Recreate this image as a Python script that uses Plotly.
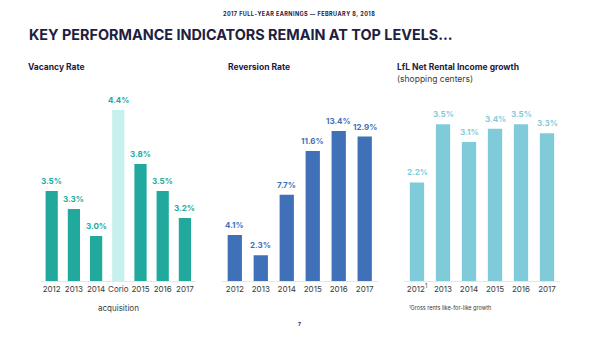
import plotly.graph_objects as go

W, H = 600, 337

# ---- data ----
vac_cats = ["2012", "2013", "2014", "Corio", "2015", "2016", "2017"]
vac_vals = [3.5, 3.3, 3.0, 4.4, 3.8, 3.5, 3.2]
vac_labels = ["3.5%", "3.3%", "3.0%", "4.4%", "3.8%", "3.5%", "3.2%"]

rev_cats = ["2012", "2013", "2014", "2015", "2016", "2017"]
rev_vals = [4.1, 2.3, 7.7, 11.6, 13.4, 12.9]
rev_labels = ["4.1%", "2.3%", "7.7%", "11.6%", "13.4%", "12.9%"]

lfl_cats = ["2012", "2013", "2014", "2015", "2016", "2017"]
lfl_ticktext = ["2012<sup>1</sup>", "2013", "2014", "2015", "2016", "2017"]
lfl_vals = [2.2, 3.5, 3.1, 3.4, 3.5, 3.3]
lfl_labels = ["2.2%", "3.5%", "3.1%", "3.4%", "3.5%", "3.3%"]

TEAL = "#20a99c"
TEAL_LIGHT = "#c6f0ed"
BLUE = "#4070b7"
LBLUE = "#80cbda"
NAVY = "#1d2040"
GRAY = "#3a3a3a"
FONT = "Inter"


def px_x(p):
    return p / W


def px_y(p):
    return 1 - p / H


base = px_y(281)
top = px_y(100)

fig = go.Figure()

vac_colors = [TEAL_LIGHT if c == "Corio" else TEAL for c in vac_cats]
fig.add_trace(go.Bar(x=vac_cats, y=[v - 2.5 for v in vac_vals], base=2.5,
                     marker=dict(color=vac_colors, line=dict(width=0)),
                     xaxis="x", yaxis="y", hoverinfo="skip"))
fig.add_trace(go.Bar(x=rev_cats, y=rev_vals, marker=dict(color=BLUE, line=dict(width=0)),
                     xaxis="x2", yaxis="y2", hoverinfo="skip"))
fig.add_trace(go.Bar(x=lfl_cats, y=lfl_vals, marker=dict(color=LBLUE, line=dict(width=0)),
                     xaxis="x3", yaxis="y3", hoverinfo="skip"))

ann = []
for i, (v, t) in enumerate(zip(vac_vals, vac_labels)):
    ann.append(dict(x=i, y=v, xref="x", yref="y", text="<b>%s</b>" % t, showarrow=False,
                    yanchor="bottom", yshift=3, font=dict(size=8, color=TEAL)))
for i, (v, t) in enumerate(zip(rev_vals, rev_labels)):
    ann.append(dict(x=i, y=v, xref="x2", yref="y2", text="<b>%s</b>" % t, showarrow=False,
                    yanchor="bottom", yshift=3, font=dict(size=8, color=BLUE)))
for i, (v, t) in enumerate(zip(lfl_vals, lfl_labels)):
    ann.append(dict(x=i, y=v, xref="x3", yref="y3", text="<b>%s</b>" % t, showarrow=False,
                    yanchor="bottom", yshift=3, font=dict(size=8, color=LBLUE)))

# acquisition line under Corio
ann.append(dict(x=vac_cats.index("Corio"), y=px_y(308), xref="x", yref="paper", text="acquisition",
                showarrow=False, yanchor="middle", font=dict(size=8, color=GRAY)))

# header and titles
header = "\u200a".join("2017 FULL-YEAR EARNINGS \u2014 FEBRUARY 8, 2018")
ann.append(dict(x=px_x(299), y=px_y(14), xref="paper", yref="paper", text="<b>%s</b>" % header,
                showarrow=False, xanchor="center", yanchor="middle", font=dict(size=5.5, color=NAVY)))
ann.append(dict(x=px_x(27), y=px_y(34.5), xref="paper", yref="paper",
                text="<b>KEY PERFORMANCE INDICATORS REMAIN AT TOP LEVELS...</b>",
                showarrow=False, xanchor="left", yanchor="middle", font=dict(size=14.4, color=NAVY)))
ann.append(dict(x=px_x(26), y=px_y(67.5), xref="paper", yref="paper", text="<b>Vacancy Rate</b>",
                showarrow=False, xanchor="left", yanchor="middle", font=dict(size=8.5, color=NAVY)))
ann.append(dict(x=px_x(226), y=px_y(67.5), xref="paper", yref="paper", text="<b>Reversion Rate</b>",
                showarrow=False, xanchor="left", yanchor="middle", font=dict(size=8.5, color=NAVY)))
ann.append(dict(x=px_x(395), y=px_y(67.5), xref="paper", yref="paper",
                text="<b>LfL Net Rental Income growth</b>",
                showarrow=False, xanchor="left", yanchor="middle", font=dict(size=8.5, color=NAVY)))
ann.append(dict(x=px_x(395), y=px_y(79), xref="paper", yref="paper", text="(shopping centers)",
                showarrow=False, xanchor="left", yanchor="middle", font=dict(size=8.5, color=GRAY)))
ann.append(dict(x=px_x(407), y=px_y(307.5), xref="paper", yref="paper",
                text="<sup>1</sup>Gross rents like-for-like growth",
                showarrow=False, xanchor="left", yanchor="middle", font=dict(size=5.5, color=GRAY)))
ann.append(dict(x=px_x(299), y=px_y(324), xref="paper", yref="paper", text="<b>7</b>",
                showarrow=False, xanchor="center", yanchor="middle", font=dict(size=5, color=NAVY)))

xcommon = dict(type="category", showgrid=False, zeroline=False, showline=True, linecolor="#e4e6ea",
               linewidth=1, ticks="", tickangle=0, automargin=False,
               tickfont=dict(size=8, color=GRAY), fixedrange=True)
ycommon = dict(showgrid=False, zeroline=False, showline=False, showticklabels=False, ticks="",
               fixedrange=True, automargin=False)

fig.update_layout(
    width=W, height=H, margin=dict(l=0, r=0, t=0, b=0, autoexpand=False),
    paper_bgcolor="white", plot_bgcolor="white",
    font=dict(family=FONT, color=GRAY),
    showlegend=False, bargap=0.45,
    xaxis=dict(xcommon, domain=[px_x(40.6), px_x(196)], anchor="y",
               range=[-0.5, len(vac_cats) - 0.5]),
    yaxis=dict(ycommon, domain=[base, top], range=[2.5, 2.5 + 181 / 90.0], anchor="x"),
    xaxis2=dict(xcommon, domain=[px_x(221.8), px_x(377.7)], anchor="y2",
                range=[-0.5, len(rev_cats) - 0.5]),
    yaxis2=dict(ycommon, domain=[base, top], range=[0, 181 / 11.2], anchor="x2"),
    xaxis3=dict(xcommon, domain=[px_x(404), px_x(560)], anchor="y3",
                range=[-0.5, len(lfl_cats) - 0.5],
                tickmode="array", tickvals=lfl_cats, ticktext=lfl_ticktext),
    yaxis3=dict(ycommon, domain=[base, top], range=[0, 181 / 44.8], anchor="x3"),
    annotations=ann,
)

fig.write_html("out.html")
